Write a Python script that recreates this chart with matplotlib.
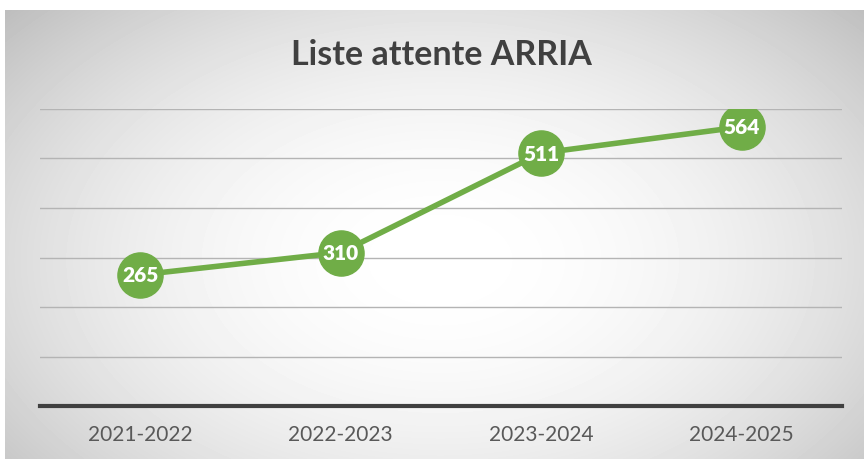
import numpy as np
import matplotlib.pyplot as plt

years = ['2021-2022', '2022-2023', '2023-2024', '2024-2025']
waiting = [265, 310, 511, 564]
title = 'Liste attente ARRIA'

GREEN = '#70AD47'

plt.rcParams['font.family'] = ['Lato', 'DejaVu Sans']

fig = plt.figure(figsize=(8.64, 4.6), dpi=100)

# radial grey-to-white background of the chart frame
bg = fig.add_axes([5/864, 0, 859/864, 449/460], zorder=-1)
W, H = 859, 449
xx, yy = np.meshgrid(np.arange(W), np.arange(H))
r = np.sqrt(((xx - 435) / 470.0) ** 2 + ((yy - 250) / 300.0) ** 2)
shade = 1.0 - 0.26 * np.clip(r, 0, 1.25) ** 2.0 / 1.25 ** 2.0
bg.imshow(shade, cmap='gray', vmin=0, vmax=1, aspect='auto', extent=(0, W, H, 0))
bg.axis('off')

ax = fig.add_axes([40/864, 53/460, 802/864, 297/460])
ax.patch.set_alpha(0)
x = np.arange(len(years))
ax.plot(x, waiting, color=GREEN, lw=4, marker='o', markersize=32.5,
        markerfacecolor=GREEN, markeredgecolor=GREEN, solid_capstyle='round')
for xi, v in zip(x, waiting):
    ax.text(xi, v, str(v), ha='center', va='center', color='white',
            fontsize=15, fontweight='heavy')

ax.set_xlim(-0.5, len(years) - 0.5)
ax.set_ylim(0, 600)
ax.set_yticks(range(100, 601, 100))
ax.set_yticklabels([])
ax.tick_params(axis='y', length=0)
ax.grid(axis='y', color='#b4b4b4', lw=1)
ax.set_axisbelow(True)
ax.set_xticks(x)
ax.set_xticklabels(years, fontsize=15, color='#595959')
ax.tick_params(axis='x', length=0, pad=13)
for s in ['left', 'right', 'top']:
    ax.spines[s].set_visible(False)
ax.spines['bottom'].set_color('#404040')
ax.spines['bottom'].set_linewidth(3)

fig.text(441/864, 1 - 55/460, title, ha='center', va='center',
         fontsize=24.5, fontweight='bold', color='#404040')

fig.savefig('out.png', dpi=100)
